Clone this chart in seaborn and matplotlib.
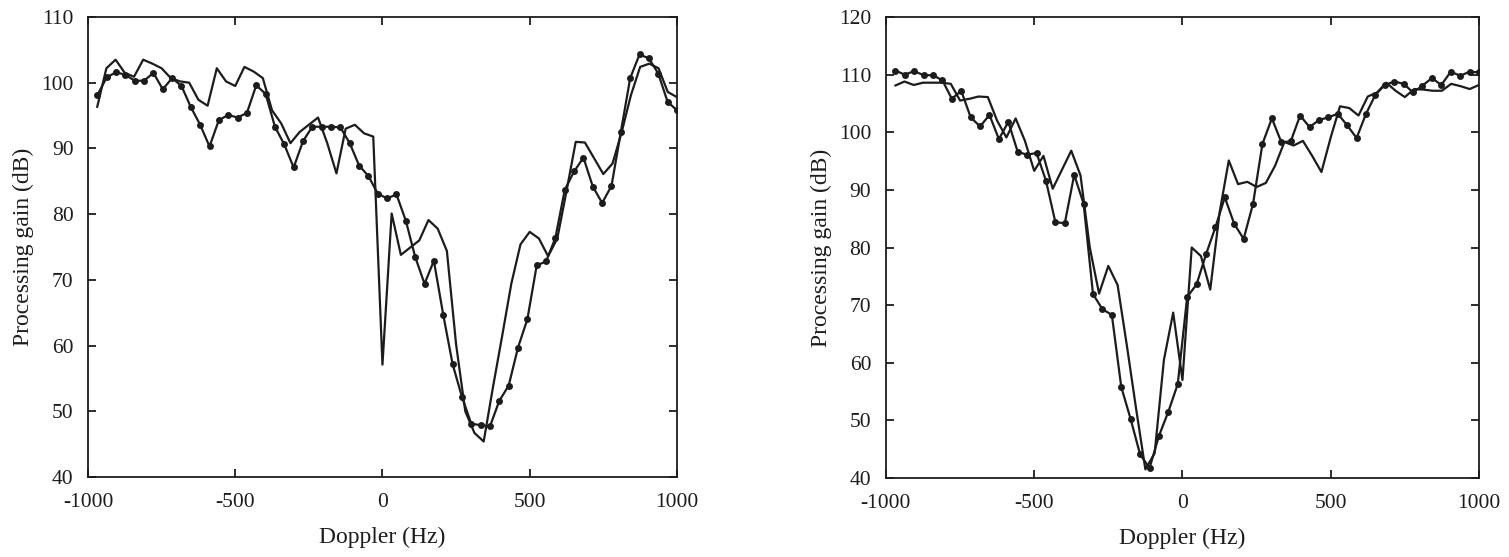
import numpy as np
import matplotlib
matplotlib.use("Agg")
import matplotlib.pyplot as plt
import seaborn as sns

# --- Doppler grids (Hz) ---
# plain curve sampled every 31.25 Hz, dotted curve on a 64-point grid without its first sample
doppler_plain = np.arange(-968.75, 1000.01, 31.25)
doppler_dots = np.linspace(-1000, 1000, 64)[1:]

# --- Left panel (dB) ---
left_plain = [96.3, 102.2, 103.5, 101.5, 100.9, 103.5, 102.9, 102.2, 100.7, 100.2,
              100.0, 97.4, 96.5, 102.2, 100.2, 99.5, 102.4, 101.7, 100.7, 95.8,
              93.8, 90.8, 92.5, 93.6, 94.7, 90.8, 86.2, 93.0, 93.6, 92.3,
              91.8, 57.1, 80.1, 73.8, 74.9, 76.0, 79.1, 77.8, 74.4, 60.2,
              50.0, 46.7, 45.4, 53.6, 61.4, 69.4, 75.4, 77.3, 76.3, 73.6,
              76.3, 83.5, 91.0, 90.9, 88.5, 86.1, 87.7, 92.5, 98.1, 102.4,
              102.9, 102.2, 98.6, 97.8]
left_dots = [98.1, 100.8, 101.6, 101.2, 100.3, 100.3, 101.5, 99.0, 100.7, 99.5,
             96.3, 93.6, 90.3, 94.3, 95.1, 94.7, 95.4, 99.6, 98.3, 93.3,
             90.6, 87.1, 91.1, 93.3, 93.3, 93.3, 93.2, 90.8, 87.4, 85.8,
             83.1, 82.4, 83.0, 79.0, 73.5, 69.4, 72.9, 64.7, 57.2, 52.2,
             48.1, 47.9, 47.7, 51.6, 53.9, 59.7, 64.0, 72.2, 72.8, 76.4,
             83.7, 86.5, 88.6, 84.2, 81.7, 84.3, 92.5, 100.7, 104.3, 103.7,
             101.4, 97.1, 95.8]

# --- Right panel (dB) ---
right_plain = [108.1, 108.8, 108.2, 108.6, 108.6, 108.6, 108.4, 105.5, 105.8, 106.2,
               106.1, 102.0, 99.1, 102.4, 98.5, 93.3, 95.9, 90.2, 93.5, 96.8,
               92.5, 80.0, 72.0, 76.8, 73.5, 63.0, 52.0, 41.5, 44.3, 60.5,
               68.7, 57.0, 80.0, 78.5, 72.7, 86.0, 95.1, 91.0, 91.4, 90.5,
               91.2, 94.2, 98.3, 97.7, 98.5, 95.9, 93.1, 99.1, 104.5, 104.2,
               102.9, 106.2, 106.9, 108.6, 107.2, 106.1, 107.5, 107.4, 107.2, 107.2,
               108.4, 108.0, 107.5, 108.2]
right_dots = [110.7, 110.0, 110.6, 109.9, 109.9, 109.0, 105.8, 107.2, 102.6, 101.0,
              103.0, 98.8, 101.8, 96.6, 96.1, 96.4, 91.6, 84.4, 84.2, 92.6,
              87.6, 71.9, 69.3, 68.3, 55.8, 50.2, 44.1, 41.7, 47.3, 51.5,
              56.3, 71.4, 73.6, 78.8, 83.5, 88.7, 84.1, 81.5, 87.6, 98.0,
              102.4, 98.3, 98.4, 102.9, 100.9, 102.1, 102.6, 103.2, 101.2, 99.0,
              103.2, 106.5, 108.2, 108.8, 108.4, 106.9, 108.1, 109.4, 108.2, 110.5,
              109.8, 110.5, 110.4]

x_ticks = [-1000, -500, 0, 500, 1000]

sns.set_style("ticks")
plt.rcParams['font.family'] = ['Liberation Serif', 'DejaVu Serif']
plt.rcParams['axes.unicode_minus'] = False

ink = '#1c1c1c'
fig = plt.figure(figsize=(15.09, 5.57), dpi=100)
ax1 = fig.add_axes([0.0583, 0.1436, 0.3903, 0.8259])
ax2 = fig.add_axes([0.5871, 0.1418, 0.3930, 0.8277])

panels = [
    (ax1, left_plain, left_dots, (40, 110)),
    (ax2, right_plain, right_dots, (40, 120)),
]

for ax, plain, dots, ylim in panels:
    sns.lineplot(x=doppler_plain, y=plain, ax=ax, color=ink, linewidth=1.6,
                 errorbar=None)
    sns.lineplot(x=doppler_dots, y=dots, ax=ax, color=ink, linewidth=1.6,
                 marker='o', markersize=5, markeredgewidth=0, errorbar=None)

    ax.set_xlim(-1000, 1000)
    ax.set_ylim(*ylim)
    ax.set_xticks(x_ticks)
    ax.set_yticks(range(ylim[0], ylim[1] + 1, 10))
    for side in ['top', 'right', 'bottom', 'left']:
        ax.spines[side].set_visible(True)
        ax.spines[side].set_linewidth(1.3)
        ax.spines[side].set_color(ink)
    ax.tick_params(direction='in', top=True, right=True, length=6, width=1.3,
                   colors=ink, labelsize=15.5)
    ax.tick_params(axis='x', pad=11.5)
    ax.tick_params(axis='y', pad=10.5)
    ax.set_xlabel('Doppler (Hz)', fontsize=17, color=ink, labelpad=11)
    ax.set_ylabel('Processing gain (dB)', fontsize=17, color=ink, labelpad=5)

fig.savefig('out.png', dpi=100)
